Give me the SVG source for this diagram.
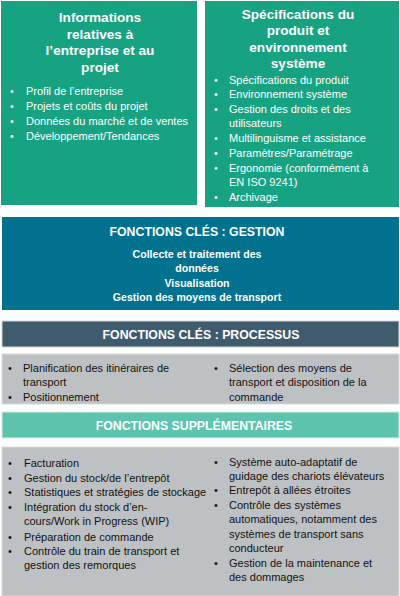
<svg xmlns="http://www.w3.org/2000/svg" width="400" height="596" viewBox="0 0 400 596">
<style>
.t{font-family:"Liberation Sans",Arial,sans-serif;}
.title{font-family:"Liberation Sans",Arial,sans-serif;font-weight:bold;font-size:13.6px;fill:#fff;text-anchor:middle;}
.hdr{font-family:"Liberation Sans",Arial,sans-serif;font-weight:bold;font-size:12.3px;fill:#fff;text-anchor:middle;}
.sub{font-family:"Liberation Sans",Arial,sans-serif;font-weight:bold;font-size:10.6px;fill:#fff;text-anchor:middle;}
.bw{font-family:"Liberation Sans",Arial,sans-serif;font-size:11px;fill:#fff;}
.bk{font-family:"Liberation Sans",Arial,sans-serif;font-size:11px;fill:#111;}
.green{fill:#17a382;}
.gray{fill:#bec1c3;stroke:#d8dadb;stroke-width:1;}
</style>
<rect width="400" height="596" fill="#fff"/>
<g id="info-entreprise">
<rect class="green" x="1" y="1" width="196" height="204"/>
<text class="title" x="100" y="22">Informations</text>
<text class="title" x="100" y="39">relatives à</text>
<text class="title" x="100" y="55">l’entreprise et au</text>
<text class="title" x="100" y="72">projet</text>
<g class="bw">
<text x="10" y="95">•</text><text x="26" y="95">Profil de l’entreprise</text>
<text x="10" y="110">•</text><text x="26" y="110">Projets et coûts du projet</text>
<text x="10" y="125">•</text><text x="26" y="125">Données du marché et de ventes</text>
<text x="10" y="140">•</text><text x="26" y="140">Développement/Tendances</text>
</g>
</g>
<g id="specifications">
<rect class="green" x="205" y="1" width="194" height="206"/>
<text class="title" x="298" y="19">Spécifications du</text>
<text class="title" x="298" y="35">produit et</text>
<text class="title" x="298" y="52">environnement</text>
<text class="title" x="298" y="68">système</text>
<g class="bw">
<text x="214" y="84">•</text><text x="229" y="84">Spécifications du produit</text>
<text x="214" y="98">•</text><text x="229" y="98">Environnement système</text>
<text x="214" y="113">•</text><text x="229" y="113">Gestion des droits et des</text>
<text x="229" y="127">utilisateurs</text>
<text x="214" y="142">•</text><text x="229" y="142">Multilinguisme et assistance</text>
<text x="214" y="157">•</text><text x="229" y="157">Paramètres/Paramétrage</text>
<text x="214" y="172">•</text><text x="229" y="172">Ergonomie (conformément à</text>
<text x="229" y="186">EN ISO 9241)</text>
<text x="214" y="201">•</text><text x="229" y="201">Archivage</text>
</g>
</g>
<g id="gestion">
<rect x="2" y="217" width="397" height="93" fill="#00718f"/>
<text class="hdr" x="197" y="236">FONCTIONS CLÉS : GESTION</text>
<text class="sub" x="197" y="258">Collecte et traitement des</text>
<text class="sub" x="197" y="272">données</text>
<text class="sub" x="197" y="287">Visualisation</text>
<text class="sub" x="197" y="301">Gestion des moyens de transport</text>
</g>
<g id="processus-titre">
<rect x="2" y="321" width="397" height="26" fill="#3f5b6e" stroke="#d0d4d6" stroke-width="1"/>
<text class="hdr" x="201" y="339">FONCTIONS CLÉS : PROCESSUS</text>
</g>
<g id="processus">
<rect class="gray" x="2" y="354" width="397" height="50"/>
<g class="bk">
<text x="8" y="372">•</text><text x="23" y="372">Planification des itinéraires de</text>
<text x="23" y="386">transport</text>
<text x="8" y="401">•</text><text x="23" y="401">Positionnement</text>
<text x="214" y="372">•</text><text x="229" y="372">Sélection des moyens de</text>
<text x="229" y="386">transport et disposition de la</text>
<text x="229" y="401">commande</text>
</g>
</g>
<g id="supplementaires-titre">
<rect x="2" y="412" width="397" height="26" fill="#5ec4ad" stroke="#d6efe9" stroke-width="1"/>
<text class="hdr" x="194" y="430">FONCTIONS SUPPLÉMENTAIRES</text>
</g>
<g id="supplementaires">
<rect class="gray" x="2" y="447" width="397" height="149"/>
<g class="bk">
<text x="8" y="467">•</text><text x="24" y="467">Facturation</text>
<text x="8" y="482">•</text><text x="24" y="482">Gestion du stock/de l’entrepôt</text>
<text x="8" y="496">•</text><text x="24" y="496">Statistiques et stratégies de stockage</text>
<text x="8" y="511">•</text><text x="24" y="511">Intégration du stock d’en-</text>
<text x="24" y="525">cours/Work in Progress (WIP)</text>
<text x="8" y="541">•</text><text x="24" y="541">Préparation de commande</text>
<text x="8" y="555">•</text><text x="24" y="555">Contrôle du train de transport et</text>
<text x="24" y="569">gestion des remorques</text>
<text x="214" y="466">•</text><text x="229" y="466">Système auto-adaptatif de</text>
<text x="229" y="480">guidage des chariots élévateurs</text>
<text x="214" y="494">•</text><text x="229" y="494">Entrepôt à allées étroites</text>
<text x="214" y="509">•</text><text x="229" y="509">Contrôle des systèmes</text>
<text x="229" y="523">automatiques, notamment des</text>
<text x="229" y="538">systèmes de transport sans</text>
<text x="229" y="552">conducteur</text>
<text x="214" y="567">•</text><text x="229" y="567">Gestion de la maintenance et</text>
<text x="229" y="581">des dommages</text>
</g>
</g>
</svg>
